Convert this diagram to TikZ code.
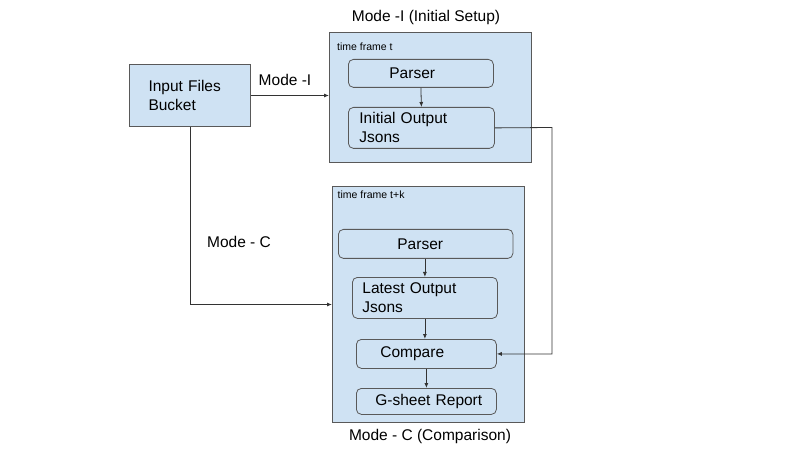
\documentclass[tikz,border=0pt]{standalone}
\usepackage{fontspec}
\setmainfont{Liberation Sans}
\usetikzlibrary{arrows.meta}
\definecolor{boxfill}{HTML}{CFE2F3}
\definecolor{boxline}{HTML}{595959}
\definecolor{wire}{HTML}{333333}
\tikzset{
  x=1pt, y=-1pt,
  frame/.style={draw=boxline, fill=boxfill, line width=1pt, anchor=north west, inner sep=0pt},
  rbox/.style={draw=boxline, fill=boxfill, line width=0.8pt, rounded corners=5pt, anchor=north west,
     align=left, font=\fontsize{15.5}{19}\selectfont, inner ysep=0pt, inner xsep=8pt},
  lbl/.style={font=\fontsize{15.5}{19}\selectfont, inner sep=0pt},
  small/.style={font=\fontsize{10.5}{12}\selectfont, inner sep=0pt, anchor=west},
  arr/.style={draw=wire, line width=0.8pt, -{Latex[length=5pt,width=4pt]}},
}
\begin{document}
\begin{tikzpicture}
\useasboundingbox (0,0) rectangle (808,462);
\fill[white] (0,0) rectangle (808,462);
% input bucket
\node[frame, minimum width=121pt, minimum height=62pt, align=left, inner xsep=19pt, text width=83pt,
  font=\fontsize{15.5}{19}\selectfont] (in) at (129,64) {Input Files\\Bucket};
% top container
\node[frame, minimum width=202pt, minimum height=130pt] (top) at (329,32) {};
\node[lbl] (t1) at (426,17) {Mode -I (Initial Setup)};
\node[small] (tf1) at (337,47) {time frame t};
\node[rbox, minimum height=28pt, text width=129pt] (p1) at (348,59) {\hspace*{33pt}Parser};
\node[rbox, minimum height=41pt, text width=130pt] (init) at (348,107) {\hspace*{3pt}Initial Output\\\hspace*{3pt}Jsons};
% bottom container
\node[frame, minimum width=192pt, minimum height=236pt] (bot) at (332,186) {};
\node[lbl] (t2) at (430,436) {Mode - C (Comparison)};
\node[small] (tf2) at (337.5,195) {time frame t+k};
\node[rbox, minimum height=29pt, text width=158.5pt] (p2) at (338,229) {\hspace*{51pt}Parser};
\node[rbox, minimum height=41pt, text width=129pt] (late) at (352,277) {\hspace*{2pt}Latest Output\\\hspace*{2pt}Jsons};
\node[rbox, minimum height=29pt, text width=124pt] (cmp) at (356,339) {\hspace*{16pt}Compare};
\node[rbox, minimum height=26pt, text width=124pt] (gs) at (356,388) {\hspace*{11pt}G-sheet Report};
% labels
\node[lbl] (m1) at (285,80) {Mode -I};
\node[lbl] (m2) at (239,242) {Mode - C};
% connectors
\draw[arr] (in.east) -- (in.east -| top.west);
\draw[arr] (p1.south) -- (init.north);
\coordinate (r1) at (552,127.5);
\draw[arr] (init.east) -- (r1) |- (cmp.east);
\draw[arr] (in.south) |- (bot.west);
\draw[arr] (p2.south -| late.north) -- (late.north);
\draw[arr] (late.south) -- (late.south |- cmp.north);
\draw[arr] (cmp.south) -- (gs.north);
\end{tikzpicture}
\end{document}
